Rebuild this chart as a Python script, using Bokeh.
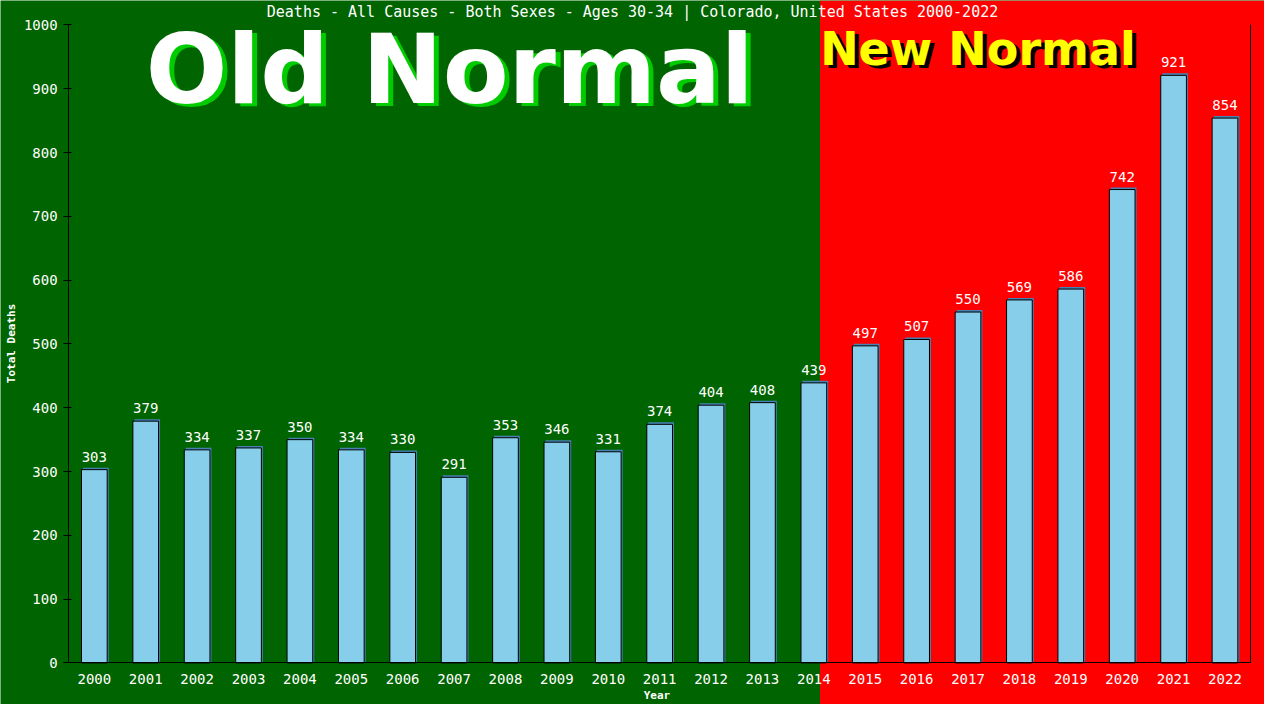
from bokeh.plotting import figure
from bokeh.models import (BoxAnnotation, Label, FixedTicker, Range1d,
                          ColumnDataSource, LinearAxis)
from bokeh.transform import dodge
from bokeh.embed import file_html
from bokeh.resources import INLINE
from bokeh.core.properties import value

# ---- data ----
years = list(range(2000, 2023))
deaths = [303, 379, 334, 337, 350, 334, 330, 291, 353, 346, 331, 374,
          404, 408, 439, 497, 507, 550, 569, 586, 742, 921, 854]
y_ticks = [0, 100, 200, 300, 400, 500, 600, 700, 800, 900, 1000]
title_text = "Deaths - All Causes - Both Sexes - Ages 30-34 | Colorado, United States 2000-2022"
old_label = "Old Normal"
new_label = "New Normal"
new_normal_start = 2014.12

# ---- style / layout ----
GREEN = "#006400"
RED = "#ff0000"
BAR = "#87ceeb"
BAR_SHADOW = "#4682b4"
MONO = "DejaVu Sans Mono"
SANS = "DejaVu Sans"
W, H = 1264, 704
SX, SY = W / 1280.0, H / 720.0
FRAME_L, FRAME_R = 69 * SX, 1266 * SX
FRAME_T, FRAME_B = 25 * SY, 677.5 * SY
XD0, XD1 = years[0] - 0.5, years[-1] + 0.5
YD0, YD1 = y_ticks[0], y_ticks[-1]
kx = (XD1 - XD0) / (FRAME_R - FRAME_L)
ky = (YD1 - YD0) / (FRAME_B - FRAME_T)
BASE_FIX = 0.375  # em shift of label baseline


def dx(ref_px):
    return XD0 + (ref_px * SX - FRAME_L) * kx


def dy(ref_py):
    return YD0 + (FRAME_B - ref_py * SY) * ky


def base_y(ref_py, size_px):
    return dy(ref_py) + BASE_FIX * size_px * ky


SHADOW_DX = 1.5 * kx
SHADOW_DY = 2.0 * ky

src = ColumnDataSource(dict(
    year=years,
    deaths=deaths,
    shadow_top=[d + SHADOW_DY for d in deaths],
    label=[str(d) for d in deaths],
))

p = figure(width=W, height=H, output_backend="svg", toolbar_location=None,
           x_range=Range1d(XD0 - FRAME_L * kx, XD1 + (W - FRAME_R) * kx),
           y_range=Range1d(YD0 - (H - FRAME_B) * ky, YD1 + FRAME_T * ky),
           min_border=0, min_border_left=0, min_border_right=0,
           min_border_top=0, min_border_bottom=0,
           background_fill_color=GREEN, border_fill_color=GREEN,
           outline_line_color=None)

red = BoxAnnotation(left=new_normal_start, fill_color=RED, fill_alpha=1.0,
                    line_color=None, level="underlay")
p.add_layout(red)

p.vbar(x=dodge("year", SHADOW_DX), top="shadow_top", bottom=0, width=0.5,
       source=src, fill_color=BAR_SHADOW, line_color=None)
p.vbar(x="year", top="deaths", bottom=0, width=0.5, source=src,
       fill_color=BAR, line_color="black", line_width=1)
p.text(x="year", y="deaths", text="label", source=src,
       text_align="center", text_baseline="bottom", y_offset=-8,
       text_color="white", text_font=value(MONO), text_font_size="14px")

# title
p.add_layout(Label(x=dx(640), y=base_y(18, 15), text=title_text,
                   text_align="center", text_baseline="alphabetic",
                   text_font=MONO, text_font_size="15px", text_color="white"))

# big labels with shadows
OLD_SIZE, NEW_SIZE = 96, 46
for col, xo, yo in (("#00cc00", 5, -3), ("white", 0, 0)):
    p.add_layout(Label(x=dx(147), y=base_y(108, OLD_SIZE), text=old_label,
                       x_offset=xo, y_offset=yo,
                       text_font=SANS, text_font_style="bold",
                       text_font_size=f"{OLD_SIZE}px", text_color=col,
                       text_baseline="alphabetic"))
for col, xo, yo in (("black", 4, -3), ("yellow", 0, 0)):
    p.add_layout(Label(x=dx(830), y=base_y(67, NEW_SIZE), text=new_label,
                       x_offset=xo, y_offset=yo,
                       text_font=SANS, text_font_style="bold",
                       text_font_size=f"{NEW_SIZE}px", text_color=col,
                       text_baseline="alphabetic"))

p.xgrid.grid_line_color = None
p.ygrid.grid_line_color = None

xa = p.xaxis[0]
xa.fixed_location = YD0
xa.bounds = (dx(64), XD1)
xa.ticker = FixedTicker(ticks=years)
xa.axis_label = "Year"
xa.axis_line_color = "black"
xa.major_tick_line_color = None
xa.minor_tick_line_color = None
xa.major_label_text_color = "white"
xa.major_label_text_font = MONO
xa.major_label_text_font_size = "14px"
xa.major_label_standoff = 5
xa.axis_label_text_color = "white"
xa.axis_label_text_font = MONO
xa.axis_label_text_font_size = "11px"
xa.axis_label_text_font_style = "bold"
xa.axis_label_standoff = 2

ya = p.yaxis[0]
ya.fixed_location = XD0
ya.bounds = (YD0, YD1)
ya.ticker = FixedTicker(ticks=y_ticks)
ya.axis_label = "Total Deaths"
ya.axis_line_color = "black"
ya.major_tick_line_color = "black"
ya.major_tick_in = 3
ya.major_tick_out = 5
ya.minor_tick_line_color = None
ya.major_label_text_color = "white"
ya.major_label_text_font = MONO
ya.major_label_text_font_size = "14px"
ya.major_label_standoff = 6
ya.axis_label_text_color = "white"
ya.axis_label_text_font = MONO
ya.axis_label_text_font_size = "11px"
ya.axis_label_text_font_style = "bold"
ya.axis_label_standoff = 3

right_edge = LinearAxis(fixed_location=XD1, bounds=(YD0, YD1),
                        ticker=FixedTicker(ticks=[]),
                        axis_line_color="black",
                        major_tick_line_color=None,
                        minor_tick_line_color=None,
                        major_label_text_font_size="0px")
p.add_layout(right_edge, "right")

open("out.html", "w").write(file_html(p, INLINE))
